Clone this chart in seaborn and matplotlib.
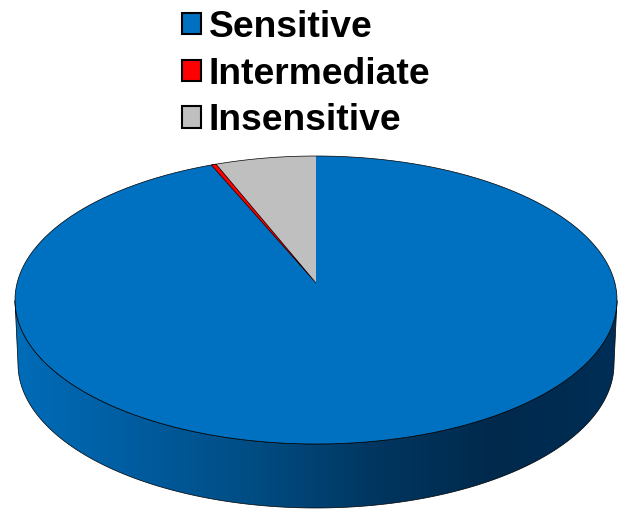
import numpy as np
import matplotlib
matplotlib.use("Agg")
import matplotlib.pyplot as plt
from matplotlib.patches import Patch, Polygon
from matplotlib.transforms import Affine2D
import seaborn as sns

categories = ["Sensitive", "Intermediate", "Insensitive"]
shares = [93.65, 0.3, 6.05]
slice_colors = ["#0070C0", "#FF0000", "#BFBFBF"]
side_shades = ["#006CB8", "#005C9F", "#004C82", "#003660", "#00294C", "#002E56"]

sns.set_theme(style="white")
plt.rcParams["font.family"] = ["Liberation Sans", "DejaVu Sans"]

W, H = 625, 509
fig = plt.figure(figsize=(W / 100, H / 100), dpi=100)
ax = fig.add_axes([0, 0, 1, 1])

wedges, _ = ax.pie(shares, colors=slice_colors, startangle=90, counterclock=False)


def tilt(points):
    """Perspective view of the unit disc, in pixel-sized axes units."""
    u, v = points[:, 0], points[:, 1]
    w = 1 + 0.118 * v
    return np.column_stack([316 + 298.9 * u / w, (283 - 108.6 * v) / w])


# Re-draw each slice through the perspective view
upscale = Affine2D().scale(2000)
for wedge, color in zip(wedges, slice_colors):
    path = wedge.get_patch_transform().transform_path(wedge.get_path())
    poly = path.to_polygons(transform=upscale, closed_only=True)[0] / 2000
    wedge.set_visible(False)
    ax.add_patch(Polygon(tilt(poly), closed=True, facecolor=color, edgecolor="none", zorder=3))

# Slice outlines: thin dark rim, with the sliver edged in black
theta = np.linspace(0, 2 * np.pi, 721)
rim = tilt(np.column_stack([np.cos(theta), np.sin(theta)]))
ax.plot(rim[:, 0], rim[:, 1], color="black", lw=0.5, zorder=4)
sliver = wedges[1]
path = sliver.get_patch_transform().transform_path(sliver.get_path())
poly = path.to_polygons(transform=upscale, closed_only=True)[0] / 2000
ax.add_patch(Polygon(tilt(poly), closed=True, facecolor=slice_colors[1],
                     edgecolor="black", lw=0.5, zorder=5))

# Side wall of the disc, shaded from left to right
front = rim[(rim[:, 1] >= 300)]
front = front[np.argsort(front[:, 0])]
lower = front.copy()
lower[:, 0] = 316 + (lower[:, 0] - 316) * 0.99
lower[:, 1] += 64
wall = Polygon(np.vstack([front, lower[::-1]]), closed=True, facecolor="none",
               edgecolor="black", lw=0.5, zorder=2)
ax.add_patch(wall)
cmap = sns.blend_palette(side_shades, as_cmap=True)
shade = ax.imshow(np.linspace(0, 1, 400)[None, :], cmap=cmap, aspect="auto",
                  extent=(15, 617, 520, 290), zorder=1)
shade.set_clip_path(wall)

ax.set_aspect("auto")
ax.set_xlim(0, W)
ax.set_ylim(H, 0)
ax.axis("off")

handles = [Patch(facecolor=c, edgecolor="black", lw=1.5) for c in slice_colors]
leg = ax.legend(handles, categories, loc="upper left", bbox_to_anchor=(182 / W, 1 - 10 / H),
                frameon=False, prop={"size": 26.85, "weight": "bold"},
                handlelength=0.5, handleheight=0.5, handletextpad=0.22,
                labelspacing=0.31, borderpad=0, borderaxespad=0)
for t in leg.get_texts():
    t.set_color("black")
leg.set_zorder(6)

fig.savefig("out.png", dpi=100)
